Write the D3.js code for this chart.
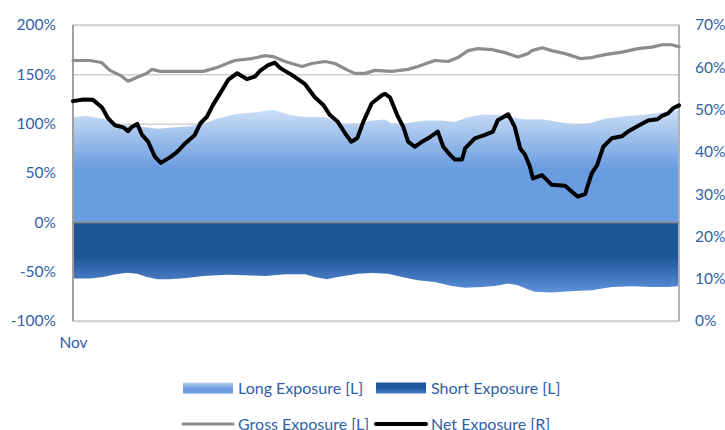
<!DOCTYPE html>
<html>
<head>
<meta charset="utf-8">
<script src="https://cdn.jsdelivr.net/npm/d3@7"></script>
<style>
  html, body { margin: 0; padding: 0; background: #fff; }
  svg { display: block; }
  text { font-family: Lato, "Open Sans", sans-serif; }
</style>
</head>
<body>
<div id="chart"></div>
<script>
// ---- Data (x = position in period 0..100, value in %) ----
const grossExposure = [[0,164],[2.8,164],[4.7,162],[6.1,154],[7.8,149],[9.1,143],[10.6,147],[12.2,151],[13,155],[14.4,153],[17.7,153],[21.5,153],[23.8,157],[25.4,161],[26.7,164],[29.5,166],[31.7,169],[33,168],[35,163],[37.8,158],[39.4,161],[41.6,163],[43.2,161],[45.4,154],[46.5,151],[48.2,151],[49.8,154],[52.6,153],[55.3,155],[56.9,158],[59.7,164],[61.9,163],[63.5,167],[65.2,174],[66.8,176],[69.1,175],[71.3,172],[73.4,167.5],[75.1,171],[75.7,174],[77.4,177],[79,174],[81.2,171],[83.7,166],[85.6,167],[87.8,170],[90.6,172.5],[93.2,176],[95.5,177.6],[97.2,180],[98.8,180],[100,178]];

const longExposure = [[0,106.7],[2.3,107.7],[5,105.1],[7.8,98.3],[10.6,97.3],[13.9,94.9],[16,95.9],[19.3,97.3],[21.5,100],[23.8,105.1],[25.4,107.7],[27.2,110.1],[30.5,111.8],[33,114.2],[36.1,108.4],[38.3,106.7],[41.6,106.7],[44.4,100],[47,100],[49.3,103.3],[51.5,104.1],[52.6,100],[55.3,100.6],[58.1,103.3],[60.9,103.3],[63,101.6],[65.2,106.7],[67.5,109.1],[70.1,109.1],[72.4,106.7],[74.6,104.1],[77.4,104.4],[80,101.6],[82.8,99.3],[85,100],[87.8,105.1],[91.1,107.4],[94.4,109.4],[97.7,111.8],[100,114.2]];

const shortExposure = [[0,-57],[2.8,-57],[5,-55.4],[6.6,-53],[8.9,-51],[10.6,-52],[12.2,-55.4],[13.9,-57.8],[16,-57.8],[18.8,-56.4],[21.5,-54.4],[25.4,-53],[28.4,-53.7],[31.7,-54.4],[35,-52.7],[38.3,-52.7],[39.9,-55.4],[41.9,-57.8],[43.7,-55.4],[47,-52],[49.3,-51.4],[52,-52],[54.3,-55.4],[56.9,-58.8],[59.7,-60.5],[62.5,-64.5],[64.7,-66.2],[67.5,-65.6],[69.6,-64.5],[71.8,-62.1],[73.4,-63.8],[75.1,-68.2],[76.2,-70.3],[79,-71.2],[82.8,-69.6],[85.6,-68.9],[88.9,-65.6],[92.2,-64.8],[95.5,-65.6],[98.2,-65.6],[100,-64.5]];

const netExposure = [[0,52],[1.7,52.4],[3.3,52.3],[4.8,50.5],[5.8,47.9],[6.9,46.3],[8.3,45.8],[9.1,44.9],[9.7,45.9],[10.6,46.6],[11.4,44],[12.4,42.4],[13.5,38.9],[14.5,37.4],[16,38.7],[17.2,40],[18.5,42],[20.1,44],[21,46.7],[22.1,48.3],[23.1,51.1],[24.6,54.6],[25.6,57],[27.1,58.6],[28.7,57.2],[30,57.8],[30.9,59.2],[32.2,60.5],[33.3,61.1],[34.2,59.8],[36.1,58.2],[38.3,56],[39.9,52.9],[41.3,51.1],[42.4,48.7],[43.7,47.1],[44.9,44.4],[45.9,42.4],[46.9,43.2],[47.9,47.1],[49.3,51.5],[51,53.4],[51.5,53.7],[52.3,52.9],[53.5,48.7],[54.5,45.9],[55.3,42.4],[56.4,41.2],[57.6,42.4],[58.6,43.2],[60.2,44.8],[61.1,41.2],[62.2,39.3],[63,38.2],[64.2,38.2],[64.7,40.8],[66.3,43.2],[68,44],[69.3,44.8],[70.1,47.5],[71.8,48.9],[72.9,45.9],[73.8,40.8],[74.6,39.3],[75.4,36.5],[75.9,33.7],[77.4,34.5],[79,32.2],[81.2,32],[82.3,30.6],[83.3,29.4],[84.5,30],[85.6,34.9],[86.5,36.9],[87.5,41.2],[88.9,43.2],[90.6,43.7],[91.6,44.8],[93.2,46.1],[94.9,47.4],[96.4,47.7],[97.2,48.5],[98.2,49.1],[99,50.3],[100,51]];

const leftTicks = [-100, -50, 0, 50, 100, 150, 200];
const rightTicks = [0, 10, 20, 30, 40, 50, 60, 70];
const xTickPos = [0];
const xTickLabels = ["Nov"];
const legendItems = [
  { name: "Long Exposure [L]", kind: "long" },
  { name: "Short Exposure [L]", kind: "short" },
  { name: "Gross Exposure [L]", kind: "gross" },
  { name: "Net Exposure [R]", kind: "net" }
];

// ---- Layout ----
const W = 725, H = 430;
const plot = { left: 73, right: 679, top: 25, bottom: 321 };
const labelColor = "#2f5fa6";

const svg = d3.select("#chart").append("svg").attr("width", W).attr("height", H);
const defs = svg.append("defs");

const x = d3.scaleLinear().domain([0, 100]).range([plot.left, plot.right]);
const yL = d3.scaleLinear().domain([-100, 200]).range([plot.bottom, plot.top]);
const yR = d3.scaleLinear().domain([0, 70]).range([plot.bottom, plot.top]);

// gradients
const gLong = defs.append("linearGradient").attr("id", "gLong")
  .attr("gradientUnits", "userSpaceOnUse").attr("x1", 0).attr("x2", 0)
  .attr("y1", yL(118)).attr("y2", yL(55));
gLong.append("stop").attr("offset", 0).attr("stop-color", "#d3e3f7");
gLong.append("stop").attr("offset", 1).attr("stop-color", "#6a9de0");

const gShort = defs.append("linearGradient").attr("id", "gShort")
  .attr("gradientUnits", "userSpaceOnUse").attr("x1", 0).attr("x2", 0)
  .attr("y1", yL(-35)).attr("y2", yL(-72));
gShort.append("stop").attr("offset", 0).attr("stop-color", "#1f5599");
gShort.append("stop").attr("offset", 1).attr("stop-color", "#5f93dc");

const gLongLeg = defs.append("linearGradient").attr("id", "gLongLeg")
  .attr("x1", 0).attr("x2", 0).attr("y1", 0).attr("y2", 1);
gLongLeg.append("stop").attr("offset", 0).attr("stop-color", "#b9d1f1");
gLongLeg.append("stop").attr("offset", 0.55).attr("stop-color", "#6a9de0");
gLongLeg.append("stop").attr("offset", 1).attr("stop-color", "#6a9de0");
const gShortLeg = defs.append("linearGradient").attr("id", "gShortLeg")
  .attr("x1", 0).attr("x2", 0).attr("y1", 0).attr("y2", 1);
gShortLeg.append("stop").attr("offset", 0).attr("stop-color", "#1f5599");
gShortLeg.append("stop").attr("offset", 0.5).attr("stop-color", "#1f5599");
gShortLeg.append("stop").attr("offset", 1).attr("stop-color", "#4a7fcb");

// gridlines
svg.append("g").attr("transform", `translate(${plot.left},0)`)
  .call(d3.axisLeft(yL).tickValues(leftTicks).tickSize(-(plot.right - plot.left)).tickFormat(""))
  .call(g => g.select(".domain").remove())
  .call(g => g.selectAll("line").attr("stroke", "#d0d0d0").attr("stroke-width", 1.5));

// areas
const longArea = d3.area().x(d => x(d[0])).y0(yL(0)).y1(d => yL(d[1]));
const shortArea = d3.area().x(d => x(d[0])).y0(yL(0)).y1(d => yL(d[1]));
svg.append("path").datum(longExposure).attr("d", longArea).attr("fill", "url(#gLong)");
svg.append("path").datum(shortExposure).attr("d", shortArea).attr("fill", "url(#gShort)");

// frame
svg.append("rect").attr("x", plot.left).attr("y", plot.top)
  .attr("width", plot.right - plot.left).attr("height", plot.bottom - plot.top)
  .attr("fill", "none").attr("stroke", "#d0d0d0").attr("stroke-width", 1.5);
// left / right axis lines
svg.append("line").attr("x1", plot.left).attr("x2", plot.left).attr("y1", plot.top).attr("y2", plot.bottom)
  .attr("stroke", "#9a9a9a").attr("stroke-width", 1.8);
svg.append("line").attr("x1", plot.right).attr("x2", plot.right).attr("y1", plot.top).attr("y2", plot.bottom)
  .attr("stroke", "#a8a8a8").attr("stroke-width", 1.5);
// zero line
svg.append("line").attr("x1", plot.left).attr("x2", plot.right).attr("y1", yL(0)).attr("y2", yL(0))
  .attr("stroke", "#8a8a8a").attr("stroke-width", 1.8);

// lines
const grossLine = d3.line().x(d => x(d[0])).y(d => yL(d[1]));
const netLine = d3.line().x(d => x(d[0])).y(d => yR(d[1]));
svg.append("path").datum(grossExposure).attr("d", grossLine)
  .attr("fill", "none").attr("stroke", "#8c8c8c").attr("stroke-width", 3.2)
  .attr("stroke-linejoin", "round").attr("stroke-linecap", "round");
svg.append("path").datum(netExposure).attr("d", netLine)
  .attr("fill", "none").attr("stroke", "#000").attr("stroke-width", 4)
  .attr("stroke-linejoin", "round").attr("stroke-linecap", "round");

// axes
const fontSize = 15.5;
svg.append("g").attr("transform", `translate(${plot.left},0)`)
  .call(d3.axisLeft(yL).tickValues(leftTicks).tickSize(0).tickPadding(17).tickFormat(d => d + "%"))
  .call(g => g.select(".domain").remove())
  .call(g => g.selectAll("text").attr("fill", labelColor).style("font-size", fontSize + "px").style("font-family", "Lato, sans-serif"));

svg.append("g").attr("transform", `translate(${plot.right},0)`)
  .call(d3.axisRight(yR).tickValues(rightTicks).tickSize(0).tickPadding(16).tickFormat(d => d + "%"))
  .call(g => g.select(".domain").remove())
  .call(g => g.selectAll("text").attr("fill", labelColor).style("font-size", fontSize + "px").style("font-family", "Lato, sans-serif"));

svg.append("g").attr("transform", `translate(0,${plot.bottom})`)
  .call(d3.axisBottom(x).tickValues(xTickPos).tickSize(0).tickPadding(16).tickFormat((d, i) => xTickLabels[i]))
  .call(g => g.select(".domain").remove())
  .call(g => g.selectAll("text").attr("fill", labelColor).style("font-size", fontSize + "px").style("font-family", "Lato, sans-serif"));

// legend
const legCols = [183, 376];
const legRows = [388, 424];
legendItems.forEach((item, i) => {
  const cx = legCols[i % 2], cy = legRows[Math.floor(i / 2)];
  const g = svg.append("g");
  if (item.kind === "long" || item.kind === "short") {
    g.append("rect").attr("x", cx).attr("y", cy - 5.5).attr("width", 50).attr("height", 11)
      .attr("fill", item.kind === "long" ? "url(#gLongLeg)" : "url(#gShortLeg)");
  } else {
    g.append("line").attr("x1", cx).attr("x2", cx + 50).attr("y1", cy).attr("y2", cy)
      .attr("stroke", item.kind === "gross" ? "#8c8c8c" : "#000")
      .attr("stroke-width", item.kind === "gross" ? 3.2 : 4).attr("stroke-linecap", "round");
  }
  g.append("text").attr("x", cx + 55).attr("y", cy).attr("dy", "0.35em")
    .attr("fill", labelColor).style("font-size", "16px").text(item.name);
});
</script>
</body>
</html>
